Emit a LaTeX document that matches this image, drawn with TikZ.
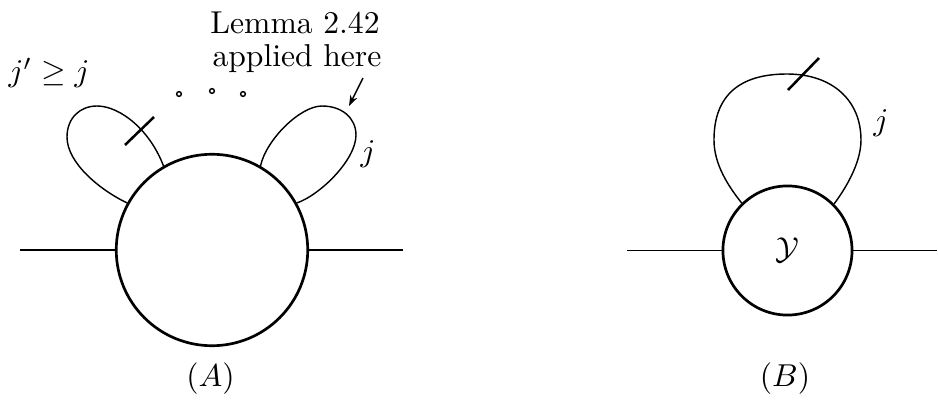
\documentclass[tikz,border=0pt]{standalone}
\usetikzlibrary{arrows.meta}
\begin{document}
\begin{tikzpicture}[x=0.316pt,y=-0.316pt,
  thinline/.style={line width=0.45pt},
  blob/.style={circle,draw,line width=0.85pt,inner sep=0pt},
  tickmark/.style={line width=0.8pt},
  ringdot/.style={circle,draw,line width=0.45pt,inner sep=0pt,minimum size=1.5pt},
  lbl/.style={inner sep=0pt, anchor=base}]
\useasboundingbox (0,0) rectangle (938,401);
% (A)
\node[blob, minimum size=60.5pt] (A) at (212,250) {};
\coordinate (AL) at (20,250);
\coordinate (AR) at (403,250);
\draw[thinline] (AL) -- (A.west);
\draw[thinline] (A.east) -- (AR);
\draw[thinline] (A.151) .. controls (100,190) and (67,163) .. (67,137)
  .. controls (67,118) and (80,106) .. (97,106)
  .. controls (120,106) and (150,130) .. (A.120);
\draw[thinline] (A.60) .. controls (266,140) and (300,106) .. (322,106)
  .. controls (342,106) and (356,118) .. (356,135)
  .. controls (356,160) and (320,195) .. (A.29);
\coordinate (tA1) at (125,145);
\coordinate (tA2) at (154,117);
\draw[tickmark] (tA1) -- (tA2);
\node[ringdot] (d1) at (179,94) {};
\node[ringdot] (d2) at (212,91) {};
\node[ringdot] (d3) at (243,94) {};
\node[lbl] (lem1) at (295,33.3) {Lemma 2.42};
\node[lbl] (lem2) at (297,66.7) {applied here};
\coordinate (arrS) at (363,78);
\coordinate (arrE) at (349,106);
\draw[thinline,-{Stealth[length=3.4pt,width=2.4pt]}] (arrS) -- (arrE);
\node[lbl] (jp) at (49,82) {$j'\geq j$};
\node[lbl] (ja) at (368,161) {$j$};
\node[lbl] (la) at (210.5,386.7) {$(A)$};
% (B)
\node[blob, minimum size=40.8pt] (B) at (787.5,250.5) {$\mathcal{Y}$};
\coordinate (BL) at (627,250.5);
\coordinate (BR) at (937,250.5);
\draw[thinline] (BL) -- (B.west);
\draw[thinline] (B.east) -- (BR);
\draw[thinline] (B.134.4) .. controls (729,187) and (714,165) .. (714,140)
  .. controls (714,95) and (740,74) .. (787,74)
  .. controls (832,74) and (861,100) .. (861,140)
  .. controls (861,165) and (843,192) .. (B.45.6);
\coordinate (tB1) at (788,90);
\coordinate (tB2) at (819,58);
\draw[tickmark] (tB1) -- (tB2);
\node[lbl] (jb) at (881,131) {$j$};
\node[lbl] (lb) at (785,386.7) {$(B)$};
\end{tikzpicture}
\end{document}
